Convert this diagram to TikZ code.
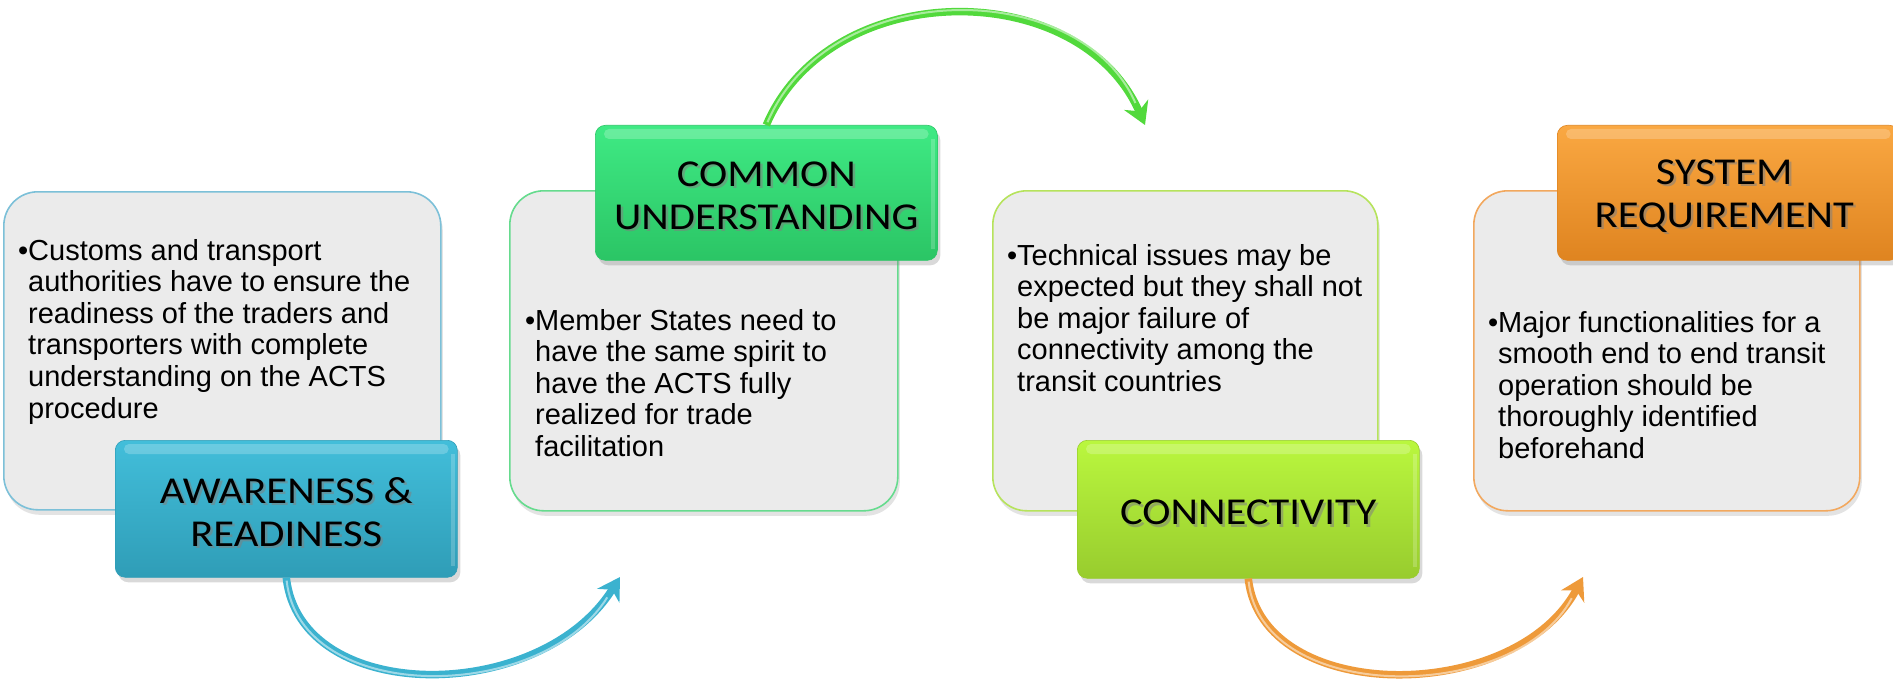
\documentclass[tikz,border=0pt]{standalone}
\usepackage{fontspec}
\setmainfont{Liberation Sans}
\newfontfamily\titlefont[FakeStretch=1.12]{Carlito}
\usetikzlibrary{arrows.meta,shadows,calc}
\definecolor{boxgray}{HTML}{EBEBEB}
\definecolor{bdblue}{HTML}{7CC0D8}
\definecolor{bdgreen}{HTML}{66DB8E}
\definecolor{bdlime}{HTML}{B6E35C}
\definecolor{bdorange}{HTML}{F2A85E}
\definecolor{tbluetop}{HTML}{42BEDA}
\definecolor{tbluebot}{HTML}{2F9DB7}
\definecolor{tgreentop}{HTML}{3FEA84}
\definecolor{tgreenbot}{HTML}{2BC565}
\definecolor{tlimetop}{HTML}{BAF73E}
\definecolor{tlimebot}{HTML}{98CC2E}
\definecolor{torangetop}{HTML}{FAA842}
\definecolor{torangebot}{HTML}{DF8420}
\definecolor{arblue}{HTML}{3BB2CF}
\definecolor{argreen}{HTML}{52D93C}
\definecolor{arorange}{HTML}{EE9A3A}
\begin{document}
\begin{tikzpicture}[x=1pt,y=-1pt,
  txtbox/.style={draw=#1, line width=1.6pt, fill=boxgray, rounded corners=34pt, anchor=north west, inner sep=0pt,
    drop shadow={opacity=0.22, shadow xshift=2pt, shadow yshift=-5pt}},
  ttlbox/.style 2 args={top color=#1, bottom color=#2, draw=#2, line width=0.6pt, rounded corners=10pt,
    anchor=north west, inner sep=0pt, minimum width=342pt,
    drop shadow={opacity=0.3, shadow xshift=3pt, shadow yshift=-5pt}},
  ttltext/.style={font=\titlefont\fontsize{38}{43}\selectfont, align=center, inner sep=0pt},
  ttlshadow/.style={ttltext, text=black!50, opacity=0.55},
  bodytext/.style={font=\fontsize{29}{31.6}\selectfont, anchor=base west, inner sep=0pt},
  gloss/.style={fill=white, opacity=0.22, rounded corners=5pt},
  flow/.style={line width=7.5pt, draw=#1, -{Stealth[length=22pt,width=26pt,inset=7pt]}},
  flowhi/.style={line width=2pt, draw=white, opacity=0.5, shorten >=24pt, shorten <=3pt},
]
\useasboundingbox (0,0) rectangle (1893,682);

% text boxes
\node[txtbox=bdblue, minimum width=437pt, minimum height=318pt] (b1) at (3,191) {};
\node[txtbox=bdgreen, minimum width=388pt, minimum height=320pt] (b2) at (509,190) {};
\node[txtbox=bdlime, minimum width=385pt, minimum height=320pt] (b3) at (992,190) {};
\node[txtbox=bdorange, minimum width=386pt, minimum height=320pt] (b4) at (1473,190) {};

% title boxes
\node[ttlbox={tbluetop}{tbluebot}, minimum height=137pt] (t1) at (115,440) {};
\node[ttlbox={tgreentop}{tgreenbot}, minimum height=135pt] (t2) at (595,125) {};
\node[ttlbox={tlimetop}{tlimebot}, minimum height=138pt] (t3) at (1077,440) {};
\node[ttlbox={torangetop}{torangebot}, minimum height=135pt] (t4) at (1557,125) {};

\foreach \t in {t1,t2,t3,t4}{
  \fill[gloss] ($(\t.north west)+(9,4)$) rectangle ($(\t.north east)+(-9,14)$);
  \fill[white,opacity=0.2] ($(\t.north east)+(-7,14)$) rectangle ($(\t.south east)+(-3,-12)$);
}

% title labels
\node[ttlshadow] (l1s) at ($(t1.center)+(2.5,5.5)$) {AWARENESS \&\\READINESS};
\node[ttltext] (l1) at ($(t1.center)+(0,3)$) {AWARENESS \&\\READINESS};
\node[ttlshadow] (l2s) at ($(t2.center)+(2.5,5.5)$) {COMMON\\UNDERSTANDING};
\node[ttltext] (l2) at ($(t2.center)+(0,3)$) {COMMON\\UNDERSTANDING};
\node[ttlshadow] (l3s) at ($(t3.center)+(2.5,5.5)$) {CONNECTIVITY};
\node[ttltext] (l3) at ($(t3.center)+(0,3)$) {CONNECTIVITY};
\node[ttlshadow] (l4s) at ($(t4.center)+(-1.5,5.5)$) {SYSTEM\\REQUIREMENT};
\node[ttltext] (l4) at ($(t4.center)+(-4,3)$) {SYSTEM\\REQUIREMENT};

% body texts
\node[bodytext] (x1) at (28,260) {\begin{tabular}[t]{@{}l@{}}\llap{•}Customs and transport\\authorities have to ensure the\\readiness of the traders and\\transporters with complete\\understanding on the ACTS\\procedure\end{tabular}};
\node[bodytext] (x2) at (535,330) {\begin{tabular}[t]{@{}l@{}}\llap{•}Member States need to\\have the same spirit to\\have the ACTS fully\\realized for trade\\facilitation\end{tabular}};
\node[bodytext] (x3) at (1017,265) {\begin{tabular}[t]{@{}l@{}}\llap{•}Technical issues may be\\expected but they shall not\\be major failure of\\connectivity among the\\transit countries\end{tabular}};
\node[bodytext] (x4) at (1498,332) {\begin{tabular}[t]{@{}l@{}}\llap{•}Major functionalities for a\\smooth end to end transit\\operation should be\\thoroughly identified\\beforehand\end{tabular}};

% arrows
\coordinate (e1) at (620,577);
\coordinate (e2) at (1145,125);
\coordinate (e3) at (1583,577);
\draw[flow=arblue] (t1.south) .. controls (300,705) and (540,705) .. (e1);
\draw[flowhi] (t1.south) .. controls (300,705) and (540,705) .. (e1);
\draw[flow=argreen] (t2.north) .. controls (830,-24) and (1080,-24) .. (e2);
\draw[flowhi] (t2.north) .. controls (830,-24) and (1080,-24) .. (e2);
\draw[flow=arorange] (t3.south) .. controls (1262,705) and (1515,705) .. (e3);
\draw[flowhi] (t3.south) .. controls (1262,705) and (1515,705) .. (e3);
\end{tikzpicture}
\end{document}
